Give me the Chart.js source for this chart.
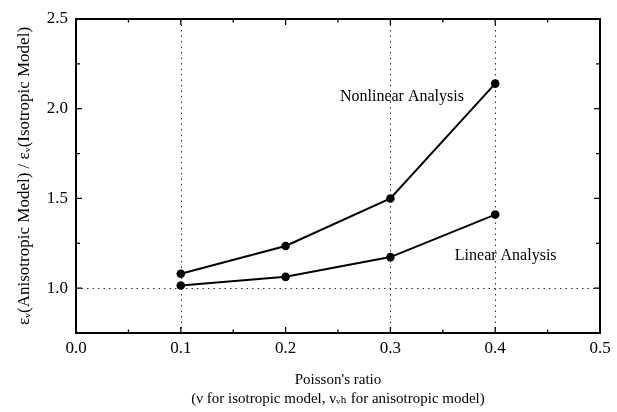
<!DOCTYPE html>
<html>
<head>
<meta charset="utf-8">
<script src="https://cdn.jsdelivr.net/npm/chart.js@4.4.0/dist/chart.umd.min.js"></script>
<style>
  html, body { margin: 0; padding: 0; background: #fff; }
</style>
</head>
<body>
<canvas id="ratioChart" width="617" height="412"></canvas>
<script>
// Values
const poissonRatio = [0.1, 0.2, 0.3, 0.4];
const nonlinearRatio = [1.08, 1.235, 1.50, 2.14];
const linearRatio = [1.015, 1.063, 1.173, 1.41];
const seriesNames = ['Nonlinear Analysis', 'Linear Analysis'];

// Axis ticks
const xTicks = [0.0, 0.05, 0.1, 0.15, 0.2, 0.25, 0.3, 0.35, 0.4, 0.45, 0.5];
const yTicks = [0.75, 1.0, 1.25, 1.5, 1.75, 2.0, 2.25, 2.5];
const xLabelled = [0.0, 0.1, 0.2, 0.3, 0.4, 0.5];
const yLabelled = [1.0, 1.5, 2.0, 2.5];

// dotted guide lines that show in the figure
const xGridValues = [0.1, 0.3, 0.4];
const yGridValues = [1.0];

const serif = '"Liberation Serif", "Times New Roman", "DejaVu Serif", serif';
const isLabelled = (list, v) => list.some(t => Math.abs(t - v) < 1e-6);

// gridlines under the data, frame + inward ticks over it
const framePlugin = {
  id: 'frame',
  beforeDatasetsDraw(chart) {
    const {ctx, chartArea: a, scales: {x, y}} = chart;
    ctx.save();
    ctx.strokeStyle = '#333';
    ctx.lineWidth = 1;
    ctx.setLineDash([1.5, 4]);
    xGridValues.forEach(v => {
      const px = Math.round(x.getPixelForValue(v)) + 0.5;
      ctx.beginPath(); ctx.moveTo(px, a.top); ctx.lineTo(px, a.bottom); ctx.stroke();
    });
    yGridValues.forEach(v => {
      const py = Math.round(y.getPixelForValue(v)) + 0.5;
      ctx.beginPath(); ctx.moveTo(a.left, py); ctx.lineTo(a.right, py); ctx.stroke();
    });
    ctx.restore();
  },
  afterDatasetsDraw(chart) {
    const {ctx, chartArea: a, scales: {x, y}} = chart;
    ctx.save();
    ctx.strokeStyle = '#000';
    ctx.lineWidth = 1.3;
    xTicks.forEach(v => {
      const px = x.getPixelForValue(v);
      const len = isLabelled(xLabelled, v) ? 6 : 3.5;
      ctx.beginPath();
      ctx.moveTo(px, a.bottom); ctx.lineTo(px, a.bottom - len);
      ctx.moveTo(px, a.top); ctx.lineTo(px, a.top + len);
      ctx.stroke();
    });
    yTicks.forEach(v => {
      const py = y.getPixelForValue(v);
      const len = isLabelled(yLabelled, v) ? 6 : 4;
      ctx.beginPath();
      ctx.moveTo(a.left, py); ctx.lineTo(a.left + len, py);
      ctx.moveTo(a.right, py); ctx.lineTo(a.right - len, py);
      ctx.stroke();
    });
    ctx.lineWidth = 2;
    ctx.strokeRect(a.left, a.top, a.right - a.left, a.bottom - a.top);
    ctx.restore();
  },
  afterDraw(chart) {
    const {ctx, scales: {x, y}} = chart;
    ctx.save();
    ctx.fillStyle = '#000';
    ctx.font = '16px ' + serif;
    ctx.textAlign = 'center';
    ctx.textBaseline = 'middle';
    ctx.fillText(seriesNames[0], x.getPixelForValue(0.311), y.getPixelForValue(2.065));
    ctx.fillText(seriesNames[1], x.getPixelForValue(0.410), y.getPixelForValue(1.178));
    ctx.restore();
  }
};

const toPoints = vals => poissonRatio.map((p, i) => ({x: p, y: vals[i]}));
const lineStyle = {
  borderColor: '#000',
  backgroundColor: '#000',
  borderWidth: 2,
  pointRadius: 4.3,
  pointBackgroundColor: '#000',
  pointBorderWidth: 0,
  tension: 0
};

new Chart(document.getElementById('ratioChart'), {
  type: 'line',
  data: {
    datasets: [
      Object.assign({label: seriesNames[0], data: toPoints(nonlinearRatio)}, lineStyle),
      Object.assign({label: seriesNames[1], data: toPoints(linearRatio)}, lineStyle)
    ]
  },
  options: {
    responsive: false,
    animation: false,
    devicePixelRatio: 1,
    layout: {padding: {left: 0, right: 17, top: 19, bottom: 0}},
    plugins: {legend: {display: false}, tooltip: {enabled: false}},
    scales: {
      x: {
        type: 'linear',
        min: 0,
        max: 0.5,
        afterBuildTicks: s => { s.ticks = xLabelled.map(v => ({value: v})); },
        afterFit: s => { s.height = 79; },
        grid: {display: false, drawTicks: false},
        border: {display: false},
        ticks: {
          autoSkip: false,
          maxRotation: 0,
          padding: 5,
          color: '#000',
          font: {family: serif, size: 17},
          callback: v => Number(v).toFixed(1)
        },
        title: {
          display: true,
          text: ["Poisson's ratio", '(\u03bd for isotropic model, \u03bd\u1d65\u2095 for anisotropic model)'],
          color: '#000',
          font: {family: serif, size: 15, lineHeight: 19 / 15},
          padding: {top: 0, bottom: 3.5}
        }
      },
      y: {
        type: 'linear',
        min: 0.75,
        max: 2.5,
        afterBuildTicks: s => { s.ticks = yLabelled.map(v => ({value: v})); },
        afterFit: s => { s.width = 76; },
        grid: {display: false, drawTicks: false},
        border: {display: false},
        ticks: {
          padding: 8,
          color: '#000',
          font: {family: serif, size: 17},
          callback: v => Number(v).toFixed(1)
        },
        title: {
          display: true,
          text: '\u03b5\u1d65(Anisotropic Model) / \u03b5\u1d65(Isotropic Model)',
          color: '#000',
          font: {family: serif, size: 17, lineHeight: 1.2},
          padding: {top: 14, bottom: 0}
        }
      }
    }
  },
  plugins: [framePlugin]
});
</script>
</body>
</html>
